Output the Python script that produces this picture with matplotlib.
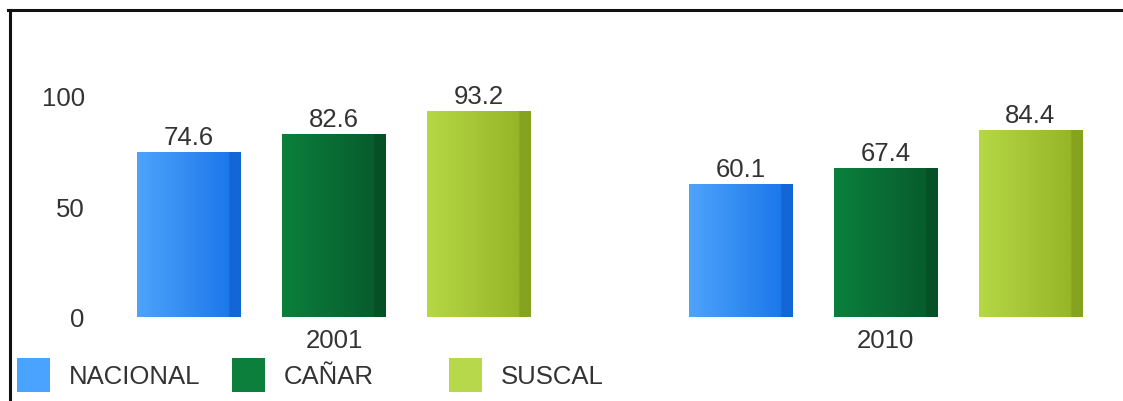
import matplotlib
matplotlib.use("Agg")
import matplotlib.pyplot as plt
import numpy as np
from matplotlib.colors import LinearSegmentedColormap
from matplotlib.lines import Line2D
from matplotlib.patches import Patch

plt.rcParams["font.family"] = ["Liberation Sans", "DejaVu Sans"]

YEARS = ["2001", "2010"]
SERIES = ["NACIONAL", "CAÑAR", "SUSCAL"]
VALUES = {
    "NACIONAL": [74.6, 60.1],
    "CAÑAR": [82.6, 67.4],
    "SUSCAL": [93.2, 84.4],
}
# left colour, right colour, right strip colour, legend colour
COLORS = {
    "NACIONAL": ("#4ea4fb", "#1672e8", "#1266d6", "#4aa3ff"),
    "CAÑAR": ("#0b803c", "#07582b", "#055024", "#0b7f3b"),
    "SUSCAL": ("#b6d845", "#92b024", "#85a31e", "#b8d84c"),
}
TEXT = "#333333"
FS = 18.5


def main():
    W, H = 1123, 402
    fig = plt.figure(figsize=(W / 100, H / 100), dpi=100)
    fig.patch.set_facecolor("white")

    # axes placed in pixels: bottom (0) at y=318, top (100) at y=97
    left_px, right_px = 100, 1118
    ax = fig.add_axes([left_px / W, (H - 318) / H, (right_px - left_px) / W, (318 - 97) / H])
    c0, per = 334, 551.5
    ax.set_xlim((left_px - c0) / per, (right_px - c0) / per)
    ax.set_ylim(0, 100)

    x = np.arange(len(YEARS))
    step = 145 / per
    width = 104 / per
    for i, name in enumerate(SERIES):
        vals = VALUES[name]
        c_left, c_right, c_strip, _ = COLORS[name]
        bars = ax.bar(x + (i - 1) * step, vals, width, color="none", edgecolor="none")
        cmap = LinearSegmentedColormap.from_list(name, [c_left, c_right])
        grad = np.linspace(0, 1, 256).reshape(1, -1)
        for bar, val in zip(bars, vals):
            bx, bw, bh = bar.get_x(), bar.get_width(), bar.get_height()
            im = ax.imshow(grad, cmap=cmap, aspect="auto", extent=(bx, bx + bw, 0, bh), zorder=2)
            im.set_clip_path(bar)
            sw = bw * 0.115
            ax.bar(bx + bw - sw, bh, sw, align="edge", color=c_strip, zorder=3)
            ax.plot([bx + bw - sw] * 2, [0, bh], color=c_right, lw=0.8, ls=(0, (1, 1)), zorder=4)
            ax.annotate(f"{val:.1f}", (bx + bw / 2, bh), xytext=(0, 6), textcoords="offset points",
                        ha="center", va="baseline", fontsize=FS, color=TEXT)

    ax.set_xticks(x, YEARS)
    ax.set_yticks([0, 50, 100])
    ax.tick_params(axis="both", length=0, labelsize=FS, labelcolor=TEXT)
    ax.tick_params(axis="y", pad=11)
    ax.tick_params(axis="x", pad=8)
    for s in ax.spines.values():
        s.set_visible(False)

    # legend entries, each placed on its own
    legend_x = [17, 232, 449]
    for name, lx in zip(SERIES, legend_x):
        handle = Patch(facecolor=COLORS[name][3], edgecolor="none")
        leg = fig.legend(handles=[handle], labels=[name], loc="center left",
                         bbox_to_anchor=(lx / W, (H - 376) / H), frameon=False,
                         fontsize=FS, handlelength=1.28, handleheight=1.6,
                         handletextpad=0.72, borderpad=0, borderaxespad=0)
        for t in leg.get_texts():
            t.set_color(TEXT)

    # frame around the picture (top and left edges)
    fig.add_artist(Line2D([8 / W, 1.0], [(H - 11) / H] * 2, color="#111111", lw=2.2))
    fig.add_artist(Line2D([9.5 / W] * 2, [0, (H - 11) / H], color="#111111", lw=2.2))

    fig.savefig("out.png", dpi=100)


if __name__ == "__main__":
    main()
